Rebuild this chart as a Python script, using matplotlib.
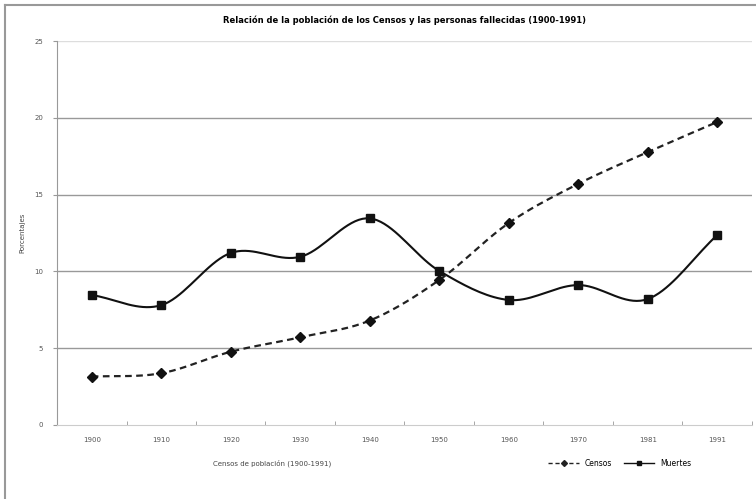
import numpy as np
import matplotlib.pyplot as plt
from matplotlib.lines import Line2D

# census years (categories) and percentages
years = ['1900', '1910', '1920', '1930', '1940', '1950', '1960', '1970', '1981', '1991']
censos = [3.15, 3.37, 4.77, 5.71, 6.8, 9.44, 13.15, 15.7, 17.77, 19.73]
muertes = [8.46, 7.8, 11.2, 10.95, 13.45, 10.03, 8.14, 9.11, 8.2, 12.37]
yticks = [0, 5, 10, 15, 20, 25]


def smooth(x, y, n=20):
    # catmull-rom curve through the points, like excel's smoothed line
    x = np.asarray(x, float)
    y = np.asarray(y, float)
    px = np.concatenate([[2 * x[0] - x[1]], x, [2 * x[-1] - x[-2]]])
    py = np.concatenate([[2 * y[0] - y[1]], y, [2 * y[-1] - y[-2]]])
    xs, ys = [], []
    t = np.linspace(0, 1, n)
    for i in range(1, len(px) - 2):
        for p, out in ((px, xs), (py, ys)):
            p0, p1, p2, p3 = p[i - 1], p[i], p[i + 1], p[i + 2]
            out.extend(0.5 * ((2 * p1) + (-p0 + p2) * t
                              + (2 * p0 - 5 * p1 + 4 * p2 - p3) * t ** 2
                              + (-p0 + 3 * p1 - 3 * p2 + p3) * t ** 3))
    return xs, ys


fig = plt.figure(figsize=(7.56, 4.99), dpi=100)
ax = fig.add_axes([0.0754, 0.1483, 0.9193, 0.7695])

x = np.arange(len(years))

sx, sy = smooth(x, censos)
ax.plot(sx, sy, color='#222222', lw=1.6, ls=(0, (3, 2)), zorder=3)
ax.plot(x, censos, ls='none', marker='D', ms=5, color='#111111', zorder=4)

sx, sy = smooth(x, muertes)
ax.plot(sx, sy, color='#111111', lw=1.5, zorder=3)
ax.plot(x, muertes, ls='none', marker='s', ms=6, color='#111111', zorder=4)

ax.set_xlim(-0.5, len(years) - 0.5)
ax.set_ylim(0, 25)
ax.set_yticks(yticks)
ax.set_yticklabels([str(v) for v in yticks], fontsize=5, color='#555555')
ax.set_xticks(x)
ax.set_xticklabels(years, fontsize=5, color='#555555')
ax.set_xticks(np.arange(len(years) + 1) - 0.5, minor=True)
ax.tick_params(axis='x', which='major', length=0, pad=9)
ax.tick_params(axis='x', which='minor', length=3, direction='in', color='#999999')
ax.tick_params(axis='y', length=3, color='#999999', pad=7)

for v in yticks[1:]:
    ax.axhline(v, color='#999999' if v < 25 else '#dddddd', lw=1.0, zorder=1)

for s in ['top', 'right']:
    ax.spines[s].set_visible(False)
ax.spines['left'].set_color('#999999')
ax.spines['bottom'].set_color('#cccccc')

ax.set_title('Relación de la población de los Censos y las personas fallecidas (1900-1991)',
             fontsize=6, fontweight='bold', pad=13)
ax.set_ylabel('Porcentajes', fontsize=5, color='#444444', labelpad=6)
fig.text(0.36, 0.068, 'Censos de población (1900-1991)', fontsize=5, color='#444444', ha='center')

handles = [Line2D([], [], color='#222222', ls=(0, (3, 2)), marker='D', ms=3, lw=1),
           Line2D([], [], color='#111111', marker='s', ms=3, lw=1)]
fig.legend(handles, ['Censos', 'Muertes'], loc='center', bbox_to_anchor=(0.82, 0.072),
           ncol=2, frameon=False, fontsize=5.5, handlelength=4, columnspacing=1.5)

# outer frame of the chart area
fig.add_artist(Line2D([0.0066, 0.0066], [0, 0.99], transform=fig.transFigure, color='#999999', lw=1.5))
fig.add_artist(Line2D([0.0066, 1], [0.99, 0.99], transform=fig.transFigure, color='#999999', lw=1.5))

plt.savefig('out.png', dpi=100)
